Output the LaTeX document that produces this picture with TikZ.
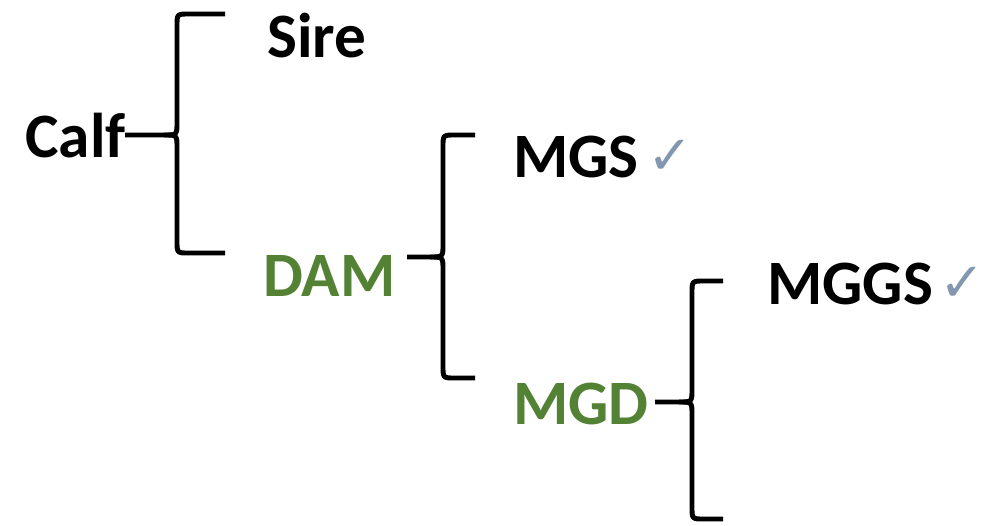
\documentclass[tikz,border=0pt]{standalone}
\usepackage{fontspec}
\setmainfont{Carlito}
\newfontfamily\symfont{DejaVu Sans}
\definecolor{dgreen}{HTML}{548235}
\definecolor{chk}{HTML}{8497B0}
\newcommand\drawbrace[6]{%
  \draw[bracestroke] (#6,#2) -- ({#1+12},#2) .. controls (#1,#2) .. (#1,{#2+12})
     -- (#1,{#3-13}) .. controls (#1,#3) .. ({#1-13},#3) -- (#5,#3);
  \draw[bracestroke] ({#1-13},#3) .. controls (#1,#3) .. (#1,{#3+13})
     -- (#1,{#4-12}) .. controls (#1,#4) .. ({#1+12},#4) -- (#6,#4);}
\begin{document}
\begin{tikzpicture}[x=0.02cm,y=-0.02cm,
  lbl/.style={anchor=base west, inner sep=0pt, font=\bfseries\fontsize{36}{40}\selectfont},
  chkmark/.style={anchor=base west, inner sep=0pt, text=chk, font=\symfont\fontsize{31}{34}\selectfont},
  bracestroke/.style={line width=2.8pt, line join=round}]
\useasboundingbox (0,0) rectangle (994,525);

\node[lbl] (calf) at (25,157) {Calf};
\node[lbl] (sire) at (267,57) {Sire};
\node[lbl, text=dgreen] (dam) at (263,296) {DAM};
\node[lbl] (mgs) at (513,177) {MGS};
\node[chkmark] (mgschk) at (647,174) {✓};
\node[lbl, text=dgreen] (mgd) at (513,424) {MGD};
\node[lbl] (mggs) at (767,304) {MGGS};
\node[chkmark] (mggschk) at (939,301) {✓};

\drawbrace{177}{14}{135}{253}{125}{225}
\drawbrace{443}{135}{257}{378}{407}{475}
\drawbrace{692}{281}{402}{519}{655}{723}
\end{tikzpicture}
\end{document}
